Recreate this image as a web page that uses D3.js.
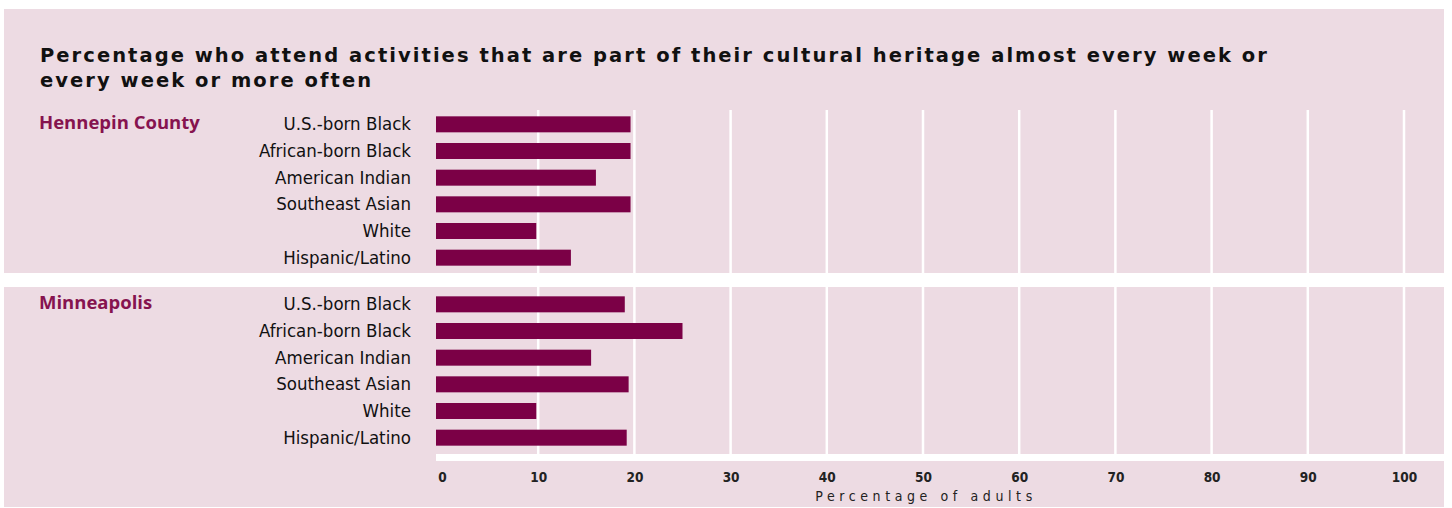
<!DOCTYPE html>
<html><head><meta charset="utf-8">
<script src="https://cdn.jsdelivr.net/npm/d3@7"></script>
<style>body{margin:0;background:#fff}svg{display:block}
.cond{font-family:"DejaVu Sans Condensed","DejaVu Sans";font-stretch:condensed}</style>
</head><body>
<script>
const categories = ["U.S.-born Black","African-born Black","American Indian","Southeast Asian","White","Hispanic/Latino"];
const hennepinValues = [19.6, 19.6, 16.0, 19.6, 9.8, 13.4];
const minneapolisValues = [19.0, 25.0, 15.5, 19.4, 9.8, 19.2];
const groupNames = ["Hennepin County","Minneapolis"];
const tickValues = [0,10,20,30,40,50,60,70,80,90,100];
const titleLines = ["Percentage who attend activities that are part of their cultural heritage almost every week or","every week or more often"];
const axisTitle = "Percentage of adults";

const W = 1452, H = 508;
const pink = "#eddbe3", barColor = "#7b0046", groupColor = "#86134f";
const svg = d3.select("body").append("svg").attr("width", W).attr("height", H);

const panels = [{y0:9, y1:273, range:[111,271], gridTop:110, gridBot:273, vals:hennepinValues, name:groupNames[0]},
                {y0:287, y1:507, range:[291,451], gridTop:287, gridBot:454, vals:minneapolisValues, name:groupNames[1]}];
panels.forEach(p => svg.append("rect").attr("x",4).attr("y",p.y0).attr("width",1440).attr("height",p.y1-p.y0).attr("fill",pink));

const x = d3.scaleLinear().domain([0,100]).range([442,1404]);

const title = svg.append("text").attr("font-family","DejaVu Sans").attr("font-weight","bold").attr("font-size",19.5).attr("letter-spacing",2.05).attr("fill","#111");
titleLines.forEach((t,i)=> title.append("tspan").attr("x",40).attr("y",62+i*25).text(t));

panels.forEach(p => {
  const y = d3.scaleBand().domain(categories).range(p.range).paddingInner(0.4).paddingOuter(0.2);
  svg.append("g").selectAll("line").data(tickValues.filter(d=>d>0)).join("line")
    .attr("x1",d=>x(d)).attr("x2",d=>x(d)).attr("y1",p.gridTop).attr("y2",p.gridBot)
    .attr("stroke","#fff").attr("stroke-width",2.5);
  svg.append("g").selectAll("rect").data(p.vals).join("rect")
    .attr("x", x(0)-6).attr("y",(d,i)=>y(categories[i])).attr("height",y.bandwidth())
    .attr("width", d=>x(d)-x(0)+6).attr("fill",barColor);
  svg.append("g").selectAll("text").data(categories).join("text").attr("class","cond")
    .attr("x",411).attr("y",d=>y(d)+y.bandwidth()/2+6).attr("text-anchor","end")
    .attr("font-size",18.5).attr("fill","#111").text(d=>d);
  svg.append("text").attr("x",39).attr("y",y(categories[0])+y.bandwidth()/2+5)
    .attr("font-family","Open Sans").attr("font-weight",700).attr("font-size",18.5)
    .attr("fill",groupColor).text(p.name);
});

svg.append("rect").attr("x",436).attr("y",454).attr("width",1444-436).attr("height",7).attr("fill","#fff");
const axis = d3.axisBottom(x).tickValues(tickValues).tickSize(0).tickPadding(0);
const ag = svg.append("g").attr("transform","translate(0,472)").call(axis);
ag.select(".domain").remove();
ag.selectAll("text").attr("class","cond").attr("font-weight","bold").attr("font-size",13.5).attr("fill","#222");

svg.append("text").attr("class","cond").attr("x",x(50)+3).attr("y",501).attr("text-anchor","middle")
  .attr("font-size",14).attr("letter-spacing",4.6).attr("fill","#222").text(axisTitle);
</script>
</body></html>
